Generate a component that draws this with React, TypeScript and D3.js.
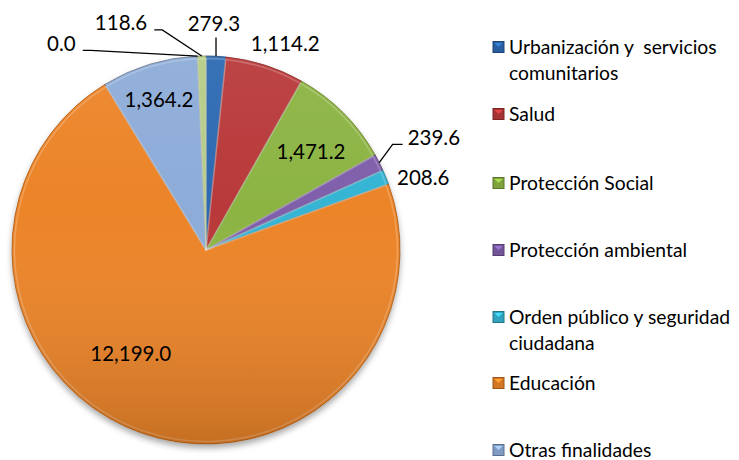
import React, { useEffect, useRef } from 'react';
import * as d3 from 'd3';

// Slice order follows the chart, clockwise from 12 o'clock
const categories = [
  'Urbanización y  servicios comunitarios',
  'Salud',
  'Protección Social',
  'Protección ambiental',
  'Orden público y seguridad ciudadana',
  'Educación',
  'Otras finalidades',
  '',
  '',
];
const values = [279.3, 1114.2, 1471.2, 239.6, 208.6, 12199.0, 1364.2, 0.0, 118.6];
const colors = ['#2C69B2', '#B9393A', '#8CB443', '#7F5FAA', '#35B4D4', '#EC8428', '#8DACD8', '#C3D69B', '#B5CD86'];

// legend rows (text broken like the reference, double space kept)
const legendLines = [
  ['Urbanización y \u00A0servicios', 'comunitarios'],
  ['Salud'],
  ['Protección Social'],
  ['Protección ambiental'],
  ['Orden público y seguridad', 'ciudadana'],
  ['Educación'],
  ['Otras finalidades'],
];

// label placement: polar angle (deg, clockwise from top) and radius as share of R
const labelPlace = [
  { a: 2, r: 1.17, leader: 'vertical' },
  { a: 21, r: 1.14, leader: 'none' },
  { a: 47, r: 0.74, leader: 'none' },
  { a: 63.7, r: 1.31, leader: 'elbow' },
  { a: 71.6, r: 1.18, leader: 'none' },
  { a: 216, r: 0.66, leader: 'none' },
  { a: 342.6, r: 0.81, leader: 'none' },
  { a: 325, r: 1.3, leader: 'elbow' },
  { a: 339.5, r: 1.25, leader: 'elbow' },
];

const W = 739;
const H = 460;
const FONT = 'Lato, "Open Sans", sans-serif';

const fmt = d3.format(',.1f');

const App: React.FC = () => {
  const svgRef = useRef<SVGSVGElement>(null);

  useEffect(() => {
    if (!svgRef.current) return;
    const svg = d3.select(svgRef.current);
    svg.selectAll('*').remove();

    const cx = 206;
    const cy = 250;
    const R = 194;

    const defs = svg.append('defs');
    const shadow = defs.append('filter').attr('id', 'shadow').attr('x', '-10%').attr('y', '-10%').attr('width', '120%').attr('height', '125%');
    shadow.append('feDropShadow').attr('dx', 0).attr('dy', 4).attr('stdDeviation', 3).attr('flood-color', '#000').attr('flood-opacity', 0.35);

    const shade = defs.append('linearGradient').attr('id', 'shade').attr('x1', 0).attr('y1', 0).attr('x2', 0).attr('y2', 1);
    shade.append('stop').attr('offset', '0%').attr('stop-color', '#fff').attr('stop-opacity', 0.06);
    shade.append('stop').attr('offset', '40%').attr('stop-color', '#fff').attr('stop-opacity', 0);
    shade.append('stop').attr('offset', '100%').attr('stop-color', '#000').attr('stop-opacity', 0.16);

    const pie = d3.pie<number>().sort(null).value(d => d);
    const arcs = pie(values);
    const arc = d3.arc<d3.PieArcDatum<number>>().innerRadius(0).outerRadius(R);

    const g = svg.append('g').attr('transform', `translate(${cx},${cy})`);

    g.append('circle').attr('r', R).attr('fill', '#E07A28').attr('filter', 'url(#shadow)');

    g.selectAll('path.slice')
      .data(arcs)
      .enter()
      .append('path')
      .attr('class', 'slice')
      .attr('d', arc)
      .attr('fill', (d, i) => colors[i])
      .attr('stroke', (d, i) => d3.color(colors[i])!.darker(0.9).toString())
      .attr('stroke-width', (d) => (d.value > 0 ? 0.8 : 0))
      .attr('stroke-linejoin', 'round');

    // soft highlight along slice edges (bevel look)
    g.selectAll('path.bevel')
      .data(arcs.filter(d => d.value > 0))
      .enter()
      .append('path')
      .attr('class', 'bevel')
      .attr('d', d3.arc<d3.PieArcDatum<number>>().innerRadius(0).outerRadius(R - 2.5))
      .attr('fill', 'none')
      .attr('stroke', '#fff')
      .attr('stroke-opacity', 0.22)
      .attr('stroke-width', 1.5);

    g.append('circle').attr('r', R).attr('fill', 'url(#shade)');

    // data labels
    const lbl = svg.append('g').style('font-family', FONT).style('font-size', '20.5px').attr('fill', '#000');
    arcs.forEach((d, i) => {
      const p = labelPlace[i];
      const ang = (p.a * Math.PI) / 180;
      const lx = cx + p.r * R * Math.sin(ang);
      const ly = cy - p.r * R * Math.cos(ang);
      const t = lbl.append('text')
        .attr('x', lx)
        .attr('y', ly)
        .attr('text-anchor', 'middle')
        .attr('dy', '0.36em')
        .text(fmt(d.value));
      const node = t.node() as SVGTextElement;
      const bb = node.getBBox();
      const mid = (d.startAngle + d.endAngle) / 2;
      const px = cx + R * Math.sin(mid);
      const py = cy - R * Math.cos(mid);
      const base = ly + 7;
      if (p.leader === 'vertical') {
        lbl.append('path')
          .attr('d', `M${px},${py}V${bb.y + bb.height + 3}`)
          .attr('stroke', '#000').attr('stroke-width', 1.3).attr('fill', 'none');
      } else if (p.leader === 'elbow') {
        const right = lx > px;
        const ex = right ? bb.x - 5 : bb.x + bb.width + 7;
        const qx = right ? ex - 10 : ex + 8;
        lbl.append('path')
          .attr('d', `M${px},${py}L${qx},${base}H${ex}`)
          .attr('stroke', '#000').attr('stroke-width', 1.3).attr('fill', 'none');
      }
    });

    // legend
    const rowY = [47, 114, 183, 250, 317, 383, 450];
    const lg = svg.append('g').style('font-family', FONT).style('font-size', '19.3px');
    legendLines.forEach((lines, i) => {
      const y = rowY[i];
      const c = colors[i];
      lg.append('rect')
        .attr('x', 493).attr('y', y - 5.5).attr('width', 11).attr('height', 11)
        .attr('fill', d3.color(c)!.darker(0.3).toString())
        .attr('stroke', d3.color(c)!.darker(1.2).toString())
        .attr('stroke-width', 1);
      lg.append('path')
        .attr('d', `M${494.5},${y - 4}L${498.5},${y}L${502.5},${y - 4}Z`)
        .attr('fill', d3.color(c)!.brighter(0.6).toString());
      lines.forEach((s, k) => {
        lg.append('text')
          .attr('x', 509)
          .attr('y', y + k * 26)
          .attr('dy', '0.35em')
          .attr('fill', '#000')
          .text(s);
      });
    });
  }, []);

  return (
    <svg
      ref={svgRef}
      width={W}
      height={H}
      style={{ position: 'absolute', left: 0, top: 0, background: '#fff', display: 'block' }}
    />
  );
};

export default App;
